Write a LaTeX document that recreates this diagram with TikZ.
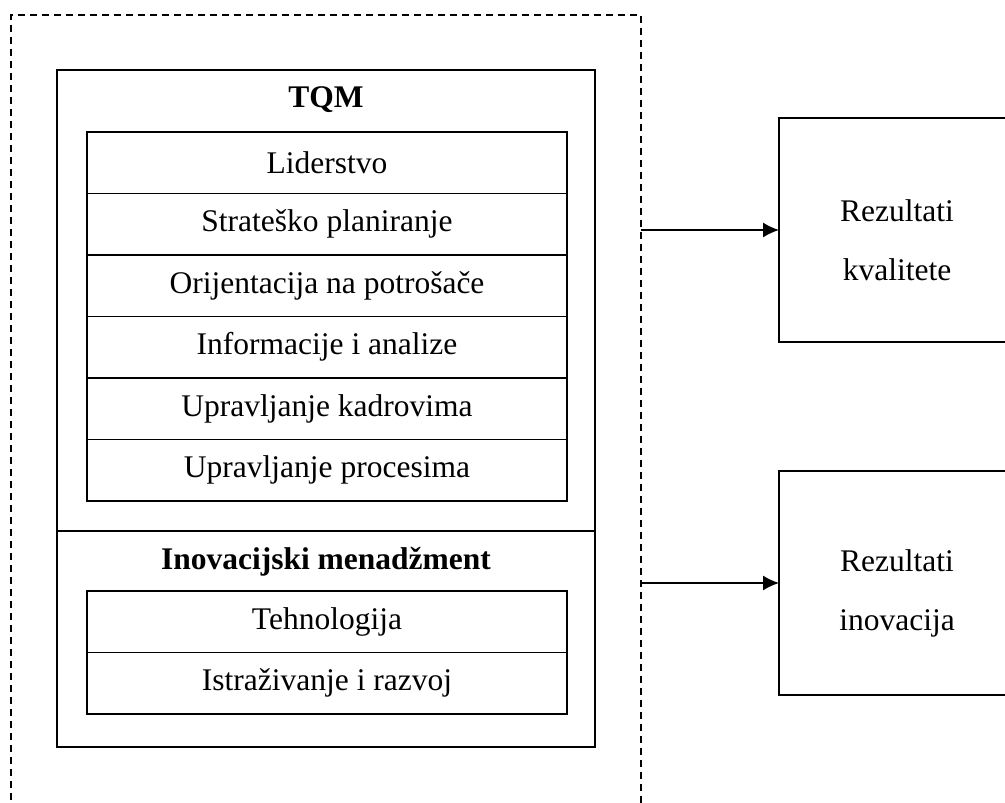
\documentclass[tikz,border=0pt]{standalone}
\usepackage{fontspec}
\setmainfont{Liberation Serif}
\usetikzlibrary{positioning,arrows.meta}
\begin{document}
\begin{tikzpicture}[x=1pt,y=-1pt,inner sep=0pt,outer sep=0pt,line width=1.4pt,
	rowbox/.style={draw,rectangle,minimum width=480pt,minimum height=61.5pt,font=\fontsize{31.5}{36}\selectfont},
	resbox/.style={draw,rectangle,minimum width=236pt,minimum height=224pt},
	restext/.style={align=center,font=\fontsize{31.5}{59}\selectfont},
	title/.style={font=\fontsize{31.5}{36}\selectfont\bfseries}]
	\useasboundingbox (0,0) rectangle (1005,803);
	\draw (11,15) node[draw,dash pattern=on 7pt off 5pt,line width=1.2pt,rectangle,anchor=north west,minimum width=630pt,minimum height=830pt] (frame) {};
	\draw (57,70) node[draw,rectangle,anchor=north west,minimum width=538pt,minimum height=677pt] (outer) {};
	\draw (326,100) node[title] (tqm) {TQM};
	\draw (87,132) node[rowbox,anchor=north west] (r1) {Liderstvo};
	\node[rowbox,below=0pt of r1] (r2) {Strateško planiranje};
	\node[rowbox,below=0pt of r2] (r3) {Orijentacija na potrošače};
	\node[rowbox,below=0pt of r3] (r4) {Informacije i analize};
	\node[rowbox,below=0pt of r4] (r5) {Upravljanje kadrovima};
	\node[rowbox,below=0pt of r5] (r6) {Upravljanje procesima};
	\draw (outer.west |- 0,531) coordinate (div) -- (outer.east |- div);
	\draw (326,562) node[title] (inov) {Inovacijski menadžment};
	\draw (87,591) node[rowbox,anchor=north west] (i1) {Tehnologija};
	\node[rowbox,below=0pt of i1] (i2) {Istraživanje i razvoj};
	\draw (779,118) node[resbox,anchor=north west] (kval) {};
	\node[restext] (kvaltext) at ([yshift=-10pt]kval.center) {Rezultati\\kvalitete};
	\draw (779,471) node[resbox,anchor=north west] (inres) {};
	\node[restext] (inrestext) at ([yshift=-10pt]inres.center) {Rezultati\\inovacija};
	\draw[-{Latex[length=16pt,width=15pt]}] (frame.east |- kval.west) -- (kval.west);
	\draw[-{Latex[length=16pt,width=15pt]}] (frame.east |- inres.west) -- (inres.west);
\end{tikzpicture}
\end{document}
